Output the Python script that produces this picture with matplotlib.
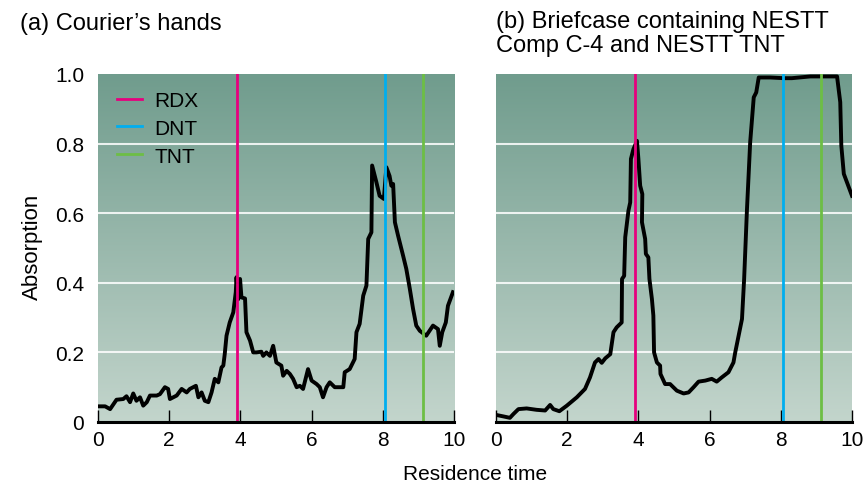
import numpy as np
import matplotlib.pyplot as plt
from matplotlib.colors import LinearSegmentedColormap

plt.rcParams['font.family'] = ['Liberation Sans', 'DejaVu Sans']

# marker positions (residence time)
markers = ['RDX', 'DNT', 'TNT']
marker_colors = ['#e6007e', '#00aeef', '#6dbe45']
marker_x = [3.9, 8.06, 9.14]

# (a) Courier's hands
hands_x = [0.0, 0.2, 0.34, 0.52, 0.71, 0.8, 0.9, 0.99, 1.08, 1.18, 1.27, 1.37, 1.46,
           1.65, 1.74, 1.88, 1.97, 2.02, 2.21, 2.35, 2.49, 2.58, 2.75, 2.82, 2.91,
           3.0, 3.1, 3.19, 3.28, 3.38, 3.47, 3.52, 3.56, 3.61, 3.7, 3.8, 3.87, 3.89,
           3.94, 3.99, 4.03, 4.13, 4.17, 4.27, 4.36, 4.45, 4.59, 4.64, 4.73, 4.83,
           4.92, 5.01, 5.15, 5.2, 5.3, 5.39, 5.48, 5.58, 5.67, 5.76, 5.9, 6.0, 6.14,
           6.23, 6.32, 6.42, 6.51, 6.65, 6.89, 6.93, 7.07, 7.21, 7.26, 7.35, 7.45,
           7.54, 7.59, 7.68, 7.7, 7.82, 7.91, 8.03, 8.1, 8.19, 8.24, 8.29, 8.34,
           8.43, 8.57, 8.66, 8.76, 8.85, 8.94, 9.04, 9.22, 9.41, 9.55, 9.6, 9.67,
           9.77, 9.83, 9.97]
hands_y = [0.045, 0.045, 0.037, 0.064, 0.066, 0.074, 0.057, 0.082, 0.061, 0.071,
           0.047, 0.057, 0.076, 0.076, 0.08, 0.1, 0.095, 0.066, 0.076, 0.095, 0.085,
           0.095, 0.104, 0.071, 0.085, 0.061, 0.057, 0.085, 0.124, 0.114, 0.157,
           0.162, 0.195, 0.248, 0.286, 0.315, 0.373, 0.416, 0.353, 0.411, 0.358,
           0.355, 0.258, 0.234, 0.2, 0.2, 0.202, 0.19, 0.2, 0.19, 0.219, 0.171, 0.162,
           0.133, 0.147, 0.138, 0.124, 0.1, 0.104, 0.095, 0.152, 0.119, 0.109, 0.1,
           0.071, 0.1, 0.114, 0.1, 0.1, 0.143, 0.152, 0.181, 0.258, 0.282, 0.363,
           0.392, 0.526, 0.545, 0.737, 0.689, 0.65, 0.641, 0.732, 0.707, 0.679,
           0.684, 0.574, 0.535, 0.478, 0.44, 0.382, 0.325, 0.277, 0.262, 0.248,
           0.277, 0.267, 0.219, 0.258, 0.286, 0.334, 0.373]

# (b) Briefcase containing NESTT Comp C-4 and NESTT TNT
case_x = [0.02, 0.21, 0.39, 0.49, 0.63, 0.86, 1.14, 1.38, 1.52, 1.61, 1.78, 1.99,
          2.27, 2.5, 2.64, 2.78, 2.88, 2.97, 3.07, 3.21, 3.3, 3.39, 3.53, 3.54,
          3.6, 3.63, 3.72, 3.77, 3.79, 3.86, 3.96, 4.0, 4.05, 4.11, 4.1, 4.19, 4.21,
          4.28, 4.31, 4.38, 4.42, 4.44, 4.52, 4.61, 4.62, 4.75, 4.89, 5.08, 5.27,
          5.41, 5.55, 5.69, 5.88, 6.06, 6.2, 6.34, 6.53, 6.67, 6.72, 6.91, 6.97,
          7.05, 7.14, 7.24, 7.31, 7.38, 7.7, 8.08, 8.31, 8.83, 9.58, 9.67, 9.7,
          9.77, 10.0]
case_y = [0.02, 0.016, 0.012, 0.023, 0.037, 0.039, 0.035, 0.033, 0.049, 0.037,
          0.031, 0.047, 0.071, 0.095, 0.128, 0.171, 0.181, 0.17, 0.183, 0.195,
          0.258, 0.272, 0.286, 0.411, 0.42, 0.531, 0.607, 0.631, 0.756, 0.784,
          0.808, 0.756, 0.679, 0.655, 0.574, 0.526, 0.483, 0.473, 0.411, 0.353,
          0.306, 0.2, 0.171, 0.162, 0.138, 0.109, 0.109, 0.09, 0.082, 0.085, 0.1,
          0.116, 0.119, 0.124, 0.116, 0.128, 0.143, 0.171, 0.2, 0.296, 0.411,
          0.612, 0.804, 0.933, 0.947, 0.99, 0.99, 0.988, 0.988, 0.993, 0.993,
          0.919, 0.794, 0.713, 0.65]

titles = ["(a) Courier\u2019s hands", "(b) Briefcase containing NESTT\nComp C-4 and NESTT TNT"]
xticks = [0, 2, 4, 6, 8, 10]
yticks = [0, 0.2, 0.4, 0.6, 0.8, 1.0]
ytick_labels = ['0', '0.2', '0.4', '0.6', '0.8', '1.0']

bg = LinearSegmentedColormap.from_list('bg', ['#c3d5cc', '#709c8d'])
grad = np.linspace(0, 1, 256).reshape(-1, 1)

fig = plt.figure(figsize=(8.64, 4.85), dpi=100)
ax1 = fig.add_axes([98 / 864, 1 - 423 / 485, 356 / 864, 348 / 485])
ax2 = fig.add_axes([496 / 864, 1 - 423 / 485, 356 / 864, 348 / 485])

for ax, xs, ys in [(ax1, hands_x, hands_y), (ax2, case_x, case_y)]:
    ax.imshow(grad, extent=[0, 10, 0, 1], origin='lower', aspect='auto', cmap=bg, zorder=0)
    for gy in [0.2, 0.4, 0.6, 0.8]:
        ax.axhline(gy, color='white', lw=1.5, alpha=0.85, zorder=1)
    ax.plot(xs, ys, color='black', lw=2.8, zorder=3, solid_joinstyle='round')
    for name, c, mx in zip(markers, marker_colors, marker_x):
        ax.axvline(mx, color=c, lw=2.0, zorder=4, label=name)
    ax.set_xlim(0, 10)
    ax.set_ylim(0, 1)
    for s in ['top', 'right', 'left']:
        ax.spines[s].set_visible(False)
    ax.spines['bottom'].set_linewidth(2.2)
    ax.spines['bottom'].set_zorder(5)
    ax.set_xticks(xticks)
    ax.set_xticklabels([str(t) for t in xticks])
    ax.tick_params(axis='x', direction='in', length=9, width=1.0, pad=6, labelsize=15)
    ax.set_yticks(yticks)
    ax.tick_params(axis='y', length=0, pad=10, labelsize=15)

ax1.set_yticklabels(ytick_labels)
ax2.set_yticklabels([])

ax1.legend(loc='upper left', frameon=False, fontsize=15, handlelength=1.2,
           handletextpad=0.6, labelspacing=0.42, bbox_to_anchor=(0.0, 1.005))

fig.text(20 / 864, 1 - 13 / 485, titles[0], fontsize=17, va='top', ha='left')
fig.text(496 / 864, 1 - 11 / 485, titles[1], fontsize=17, va='top', ha='left', linespacing=1.1)
fig.text(475 / 864, 1 - 480 / 485, 'Residence time', fontsize=15, ha='center', va='baseline')
fig.text(32 / 864, 1 - 247 / 485, 'Absorption', fontsize=16, ha='center', va='center', rotation=90)

fig.savefig('out.png', dpi=100)
